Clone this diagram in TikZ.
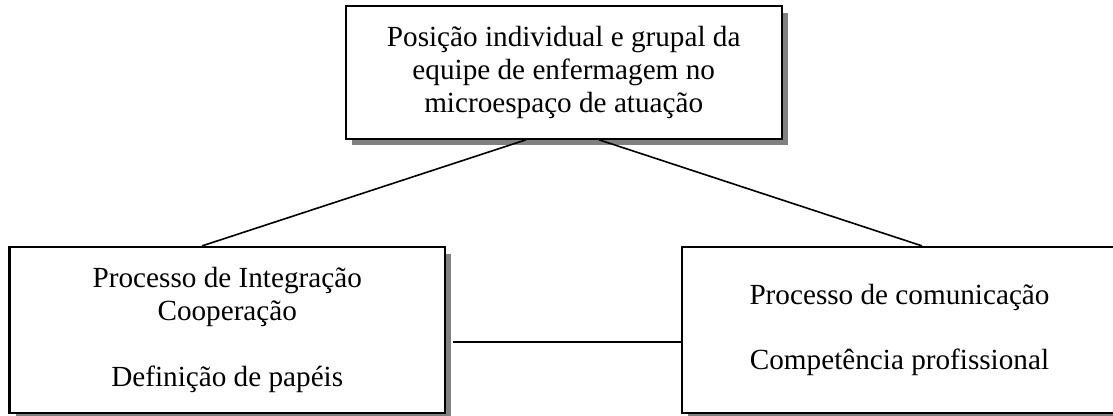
\documentclass[tikz,border=0pt]{standalone}
\usepackage{fontspec}
\setmainfont{Liberation Serif}
\usetikzlibrary{shadows}
\tikzset{
  box/.style={draw=black, line width=1.1pt, fill=white, align=center,
    font=\fontsize{14.6pt}{16.4pt}\selectfont, inner sep=0pt,
    drop shadow={shadow xshift=3.2pt, shadow yshift=-3.3pt, fill=black!50, opacity=1}},
  link/.style={draw=black, line width=0.8pt}
}
\begin{document}
\begin{tikzpicture}[x=0.5pt, y=-0.5pt]
\useasboundingbox (0,0) rectangle (1113,416);
\node[box, minimum width=218pt, minimum height=66.2pt] (top) at (563.7,72.5)
  {Posição individual e grupal da\\equipe de enfermagem no\\microespaço de atuação};
\node[box, minimum width=217.75pt, minimum height=83pt] (left) at (227.25,330)
  {Processo de Integração\\Cooperação\\[16.4pt]Definição de papéis};
\node[box, minimum width=217.75pt, minimum height=83pt] (right) at (899.5,330)
  {Processo de comunicação\\[16.4pt]Competência profissional};
\draw[link] ([xshift=-18.85pt]top.south) -- ([xshift=-12.6pt]left.north);
\draw[link] ([xshift=17.65pt]top.south) -- ([xshift=11.25pt]right.north);
\draw[link] ([xshift=3.5pt, yshift=-6pt]left.east) -- ([yshift=-6pt]right.west);
\end{tikzpicture}
\end{document}
